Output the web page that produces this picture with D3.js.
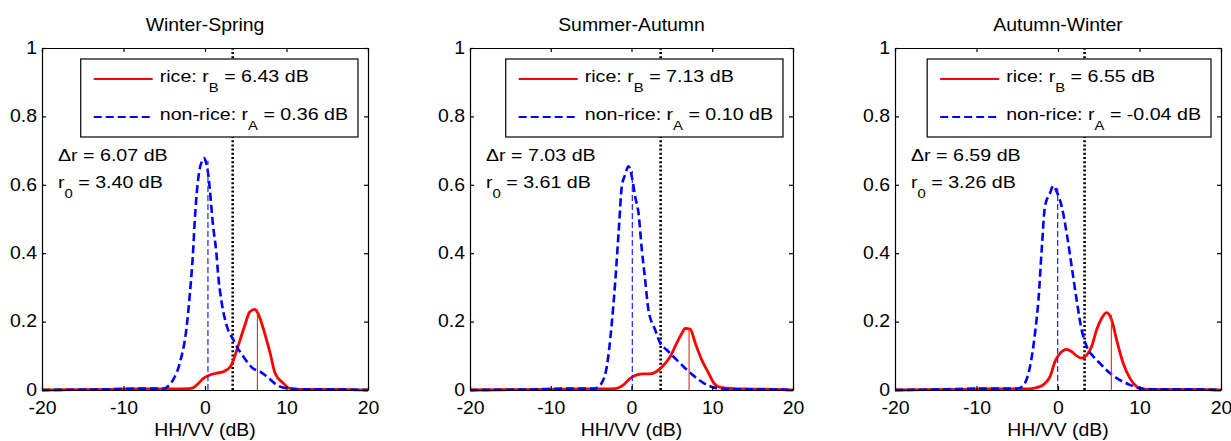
<!DOCTYPE html>
<html><head><meta charset="utf-8">
<script src="https://cdn.jsdelivr.net/npm/d3@7"></script>
<style>
body{margin:0;background:#fff}
svg text{font-family:"Liberation Sans",Arial,Helvetica,sans-serif;fill:#000;white-space:pre}
</style>
</head><body>
<svg id="chart" width="1231" height="441"></svg>
<script>
// ---------------- data ----------------
const titles = ["Winter-Spring", "Summer-Autumn", "Autumn-Winter"];
const rB = [6.43, 7.13, 6.55];          // rice mean (dB)
const rA = [0.36, 0.10, -0.04];         // non-rice mean (dB)
const deltaR = [6.07, 7.03, 6.59];
const r0 = [3.40, 3.61, 3.26];          // threshold (dB)
const riceMeanTop = [0.236, 0.18, 0.22];
const nonMeanTop = [0.67, 0.64, 0.59];
const xTicks = [-20, -10, 0, 10, 20];
const yTicks = [0, 0.2, 0.4, 0.6, 0.8, 1];
const yTickLabels = ["0", "0.2", "0.4", "0.6", "0.8", "1"];
const xLabel = "HH/VV (dB)";

// Winter-Spring
const wsRiceX = [-20,-12,-8,-4,-2,-1.5,-1.0,-0.2,0.6,1.4,2.3,3.1,3.5,3.9,4.3,4.9,5.5,6.1,6.5,7.2,8.0,8.6,9.6,10.4,12,16,20];
const wsRiceY = [0,0.002,0.003,0.003,0.004,0.006,0.015,0.034,0.044,0.049,0.054,0.068,0.088,0.117,0.146,0.19,0.229,0.236,0.224,0.176,0.107,0.049,0.02,0.005,0.002,0.002,0];
const wsNonX = [-20,-12,-8,-5,-4.7,-3.9,-3.1,-2.25,-1.85,-1.5,-1.2,-0.8,-0.4,-0.15,0.1,0.4,1.0,1.4,1.6,2.0,2.7,3.5,3.9,4.7,5.9,6.75,7.6,8.8,10,12,16,20];
const wsNonY = [0,0.002,0.004,0.004,0.008,0.03,0.078,0.185,0.283,0.39,0.517,0.624,0.668,0.678,0.668,0.63,0.478,0.4,0.34,0.263,0.185,0.146,0.127,0.098,0.063,0.054,0.039,0.015,0.005,0.002,0.002,0];

// Summer-Autumn
const saRiceX = [-20,-10,-6,-3,-1.8,-1.0,-0.17,0.66,1.5,2.3,3.1,4.0,4.8,5.6,6.24,6.65,7.27,7.9,8.7,9.55,10.2,11,14,18,20];
const saRiceY = [0,0.002,0.003,0.003,0.005,0.015,0.034,0.044,0.047,0.047,0.054,0.073,0.098,0.137,0.166,0.18,0.178,0.137,0.088,0.049,0.02,0.008,0.003,0.002,0];
const saNonX = [-20,-12,-8,-4.5,-4.3,-3.7,-3.06,-2.44,-2.03,-1.6,-1.2,-0.8,-0.37,0.04,0.45,0.87,1.28,1.69,2.1,2.93,3.55,4.38,5.6,6.86,8.1,9.34,10.6,12,16,20];
const saNonY = [0,0.002,0.004,0.004,0.006,0.02,0.068,0.195,0.312,0.459,0.595,0.629,0.654,0.624,0.566,0.517,0.41,0.322,0.234,0.176,0.137,0.117,0.088,0.059,0.034,0.015,0.005,0.002,0.002,0];

// Autumn-Winter
const awRiceX = [-20,-12,-8,-4,-3.0,-1.8,-0.98,-0.37,0.25,1.06,1.68,2.29,2.9,3.52,4.13,4.74,5.36,5.97,6.58,7.2,8.0,8.83,9.65,10.5,13,17,20];
const awRiceY = [0,0.002,0.003,0.003,0.005,0.015,0.039,0.083,0.107,0.119,0.112,0.1,0.093,0.102,0.127,0.176,0.21,0.226,0.205,0.146,0.078,0.034,0.01,0.002,0.002,0.002,0];
const awNonX = [-20,-14,-10,-5,-4.66,-4.05,-3.44,-2.82,-2.4,-2.0,-1.6,-0.98,-0.57,-0.16,0.45,1.06,1.68,2.29,2.9,3.52,4.33,5.15,6.38,7.6,8.83,10.06,12,16,20];
const awNonY = [0,0.002,0.004,0.004,0.006,0.02,0.068,0.166,0.263,0.41,0.537,0.576,0.597,0.58,0.537,0.459,0.361,0.263,0.176,0.127,0.098,0.078,0.049,0.029,0.015,0.005,0.002,0.002,0];

const riceCurves = [d3.zip(wsRiceX, wsRiceY), d3.zip(saRiceX, saRiceY), d3.zip(awRiceX, awRiceY)];
const nonCurves = [d3.zip(wsNonX, wsNonY), d3.zip(saNonX, saNonY), d3.zip(awNonX, awNonY)];

// ---------------- layout ----------------
const panelLeft = [42, 470, 895];
const panelWidth = [326, 323, 326];
const plotTop = 48, plotBottom = 390;
const FS = 17.5, SX = 1.11;    // axis text
const LFS = 16.5, LSX = 1.19;  // legend/annotation text
const SUB = 12.5, SUBDY = 10;

const svg = d3.select("#chart");
svg.append("rect").attr("width", 1231).attr("height", 441).attr("fill", "#fff");

function richText(parent, x, y, parts, size, sx, anchor) {
  const t = parent.append("text")
    .attr("transform", `translate(${x},${y}) scale(${sx},1)`)
    .attr("font-size", size)
    .attr("text-anchor", anchor || "start");
  let cur = 0;
  parts.forEach(p => {
    const ts = t.append("tspan").text(p.t);
    if (p.sub) { ts.attr("font-size", SUB).attr("dy", SUBDY - cur); cur = SUBDY; }
    else { if (cur !== 0) ts.attr("dy", -cur); cur = 0; }
  });
  return t;
}

titles.forEach((title, i) => {
  const W = panelWidth[i];
  const g = svg.append("g").attr("transform", `translate(${panelLeft[i]},0)`);
  const x = d3.scaleLinear().domain([-20, 20]).range([0, W]);
  const y = d3.scaleLinear().domain([0, 1]).range([plotBottom, plotTop]);

  g.append("rect").attr("x", 0).attr("y", plotTop).attr("width", W)
    .attr("height", plotBottom - plotTop).attr("fill", "#fff");

  // threshold dotted line
  g.append("line")
    .attr("x1", x(r0[i])).attr("x2", x(r0[i]))
    .attr("y1", y(0)).attr("y2", y(1))
    .attr("stroke", "#000").attr("stroke-width", 2.6)
    .attr("stroke-dasharray", "2,2.2");

  const line = d3.line().x(d => x(d[0])).y(d => y(d[1])).curve(d3.curveMonotoneX);

  g.append("path").datum(riceCurves[i]).attr("d", line)
    .attr("fill", "none").attr("stroke", "#ff0000").attr("stroke-width", 2.8)
    .attr("stroke-linejoin", "round");
  g.append("path").datum(nonCurves[i]).attr("d", line)
    .attr("fill", "none").attr("stroke", "#0000ff").attr("stroke-width", 2.6)
    .attr("stroke-dasharray", "8,4");

  // mean lines
  g.append("line")
    .attr("x1", x(rB[i])).attr("x2", x(rB[i]))
    .attr("y1", y(0)).attr("y2", y(riceMeanTop[i]))
    .attr("stroke", "#ff2020").attr("stroke-width", 1.1);
  g.append("line")
    .attr("x1", x(rA[i])).attr("x2", x(rA[i]))
    .attr("y1", y(0)).attr("y2", y(nonMeanTop[i]))
    .attr("stroke", "#2020ff").attr("stroke-width", 1.2)
    .attr("stroke-dasharray", "6,3");

  // axes
  const fmt = d => String(d);
  const bottom = g.append("g").attr("transform", `translate(0,${plotBottom})`)
    .call(d3.axisBottom(x).tickValues(xTicks).tickSizeInner(-4).tickSizeOuter(0).tickFormat(fmt));
  bottom.selectAll(".tick text").attr("y", 0).attr("dy", 0)
    .attr("transform", `translate(0,24) scale(${SX},1)`);
  const left = g.append("g")
    .call(d3.axisLeft(y).tickValues(yTicks).tickSizeInner(-4).tickSizeOuter(0)
      .tickFormat((d, k) => yTickLabels[k]));
  left.selectAll(".tick text").attr("x", 0).attr("dy", "0.3em")
    .attr("transform", `translate(-5,0) scale(${SX},1)`);
  g.append("g").attr("transform", `translate(0,${plotTop})`)
    .call(d3.axisTop(x).tickValues(xTicks).tickSizeInner(-4).tickSizeOuter(0).tickFormat(""));
  g.append("g").attr("transform", `translate(${W},0)`)
    .call(d3.axisRight(y).tickValues(yTicks).tickSizeInner(-4).tickSizeOuter(0).tickFormat(""));
  g.selectAll(".domain, .tick line").attr("stroke", "#000").attr("stroke-width", 1.2);
  g.selectAll(".tick text").attr("font-size", FS).attr("fill", "#000")
    .attr("font-family", '"Liberation Sans",Arial,sans-serif');

  // legend
  const leg = g.append("g");
  const box = leg.append("rect").attr("y", 59).attr("height", 78)
    .attr("fill", "#fff").attr("stroke", "#000").attr("stroke-width", 1.2);
  const t1 = richText(leg, 0, 82, [{t: "rice: r"}, {t: "B", sub: true}, {t: " = " + rB[i].toFixed(2) + " dB"}], LFS, LSX);
  const t2 = richText(leg, 0, 120, [{t: "non-rice: r"}, {t: "A", sub: true}, {t: " = " + rA[i].toFixed(2) + " dB"}], LFS, LSX);
  const tw = Math.max(t1.node().getBBox().width, t2.node().getBBox().width) * LSX;
  const boxRight = W - 10;
  const boxLeft = boxRight - 10 - tw - 79;
  box.attr("x", boxLeft).attr("width", boxRight - boxLeft);
  t1.attr("transform", `translate(${boxLeft + 79},82) scale(${LSX},1)`);
  t2.attr("transform", `translate(${boxLeft + 79},120) scale(${LSX},1)`);
  leg.append("line").attr("x1", boxLeft + 13).attr("x2", boxLeft + 72)
    .attr("y1", 79).attr("y2", 79).attr("stroke", "#ff0000").attr("stroke-width", 2);
  leg.append("line").attr("x1", boxLeft + 13).attr("x2", boxLeft + 72)
    .attr("y1", 117).attr("y2", 117).attr("stroke", "#0000ff").attr("stroke-width", 2)
    .attr("stroke-dasharray", "8,4");

  // annotations
  richText(g, 16, 161, [{t: "\u0394r = " + deltaR[i].toFixed(2) + " dB"}], LFS, LSX);
  richText(g, 16, 188, [{t: "r"}, {t: "0", sub: true}, {t: " = " + r0[i].toFixed(2) + " dB"}], LFS, LSX);

  // title & x label
  richText(g, W / 2, 31, [{t: title}], FS, SX, "middle");
  richText(g, W / 2, 436, [{t: xLabel}], FS, SX, "middle");
});
</script>
</body></html>
